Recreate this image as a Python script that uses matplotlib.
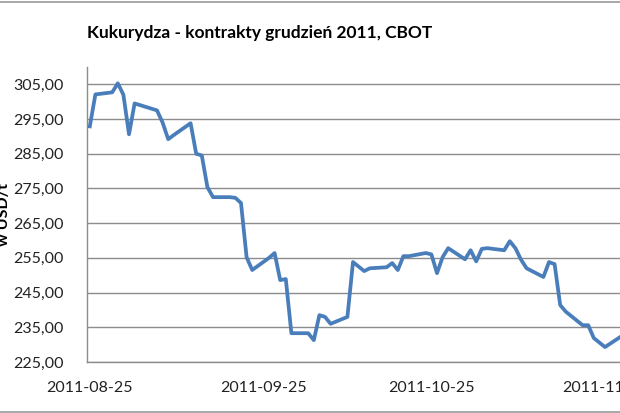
import matplotlib
matplotlib.use('Agg')
import matplotlib.pyplot as plt
import matplotlib.dates as mdates
from matplotlib.lines import Line2D
from matplotlib.ticker import FixedLocator, FuncFormatter
import pandas as pd

plt.rcParams['font.family'] = ['Lato', 'DejaVu Sans']

# notowania (data, cena w USD/t)
dates = [
    '2011-08-25', '2011-08-26', '2011-08-29', '2011-08-30', '2011-08-31',
    '2011-09-01', '2011-09-02', '2011-09-06', '2011-09-07', '2011-09-08',
    '2011-09-09', '2011-09-12', '2011-09-13', '2011-09-14', '2011-09-15',
    '2011-09-16', '2011-09-19', '2011-09-20', '2011-09-21', '2011-09-22',
    '2011-09-23', '2011-09-26', '2011-09-27', '2011-09-28', '2011-09-29',
    '2011-09-30', '2011-10-03', '2011-10-04', '2011-10-05', '2011-10-06',
    '2011-10-07', '2011-10-10', '2011-10-11', '2011-10-12', '2011-10-13',
    '2011-10-14', '2011-10-17', '2011-10-18', '2011-10-19', '2011-10-20',
    '2011-10-21', '2011-10-24', '2011-10-25', '2011-10-26', '2011-10-27',
    '2011-10-28', '2011-10-31', '2011-11-01', '2011-11-02', '2011-11-03',
    '2011-11-04', '2011-11-07', '2011-11-08', '2011-11-09', '2011-11-10',
    '2011-11-11', '2011-11-14', '2011-11-15', '2011-11-16', '2011-11-17',
    '2011-11-18', '2011-11-21', '2011-11-22', '2011-11-23', '2011-11-25',
    '2011-11-28',
]
prices = [
    292.9, 302.1, 302.7, 305.3, 302.0,
    290.6, 299.5, 297.5, 294.0, 289.2,
    290.4, 293.8, 285.0, 284.5, 275.4,
    272.5, 272.5, 272.3, 270.8, 255.2,
    251.5, 255.0, 256.4, 248.6, 248.9,
    233.3, 233.3, 231.3, 238.5, 238.0,
    236.0, 238.0, 253.8, 252.5, 251.2,
    252.0, 252.3, 253.5, 251.5, 255.5,
    255.5, 256.4, 256.0, 250.6, 255.2,
    257.8, 254.6, 257.2, 254.0, 257.6,
    257.8, 257.2, 259.8, 257.8, 254.5,
    252.0, 249.5, 253.8, 253.2, 241.4,
    239.5, 235.6, 235.6, 231.9, 229.3,
    232.5,
]
y_ticks = [225, 235, 245, 255, 265, 275, 285, 295, 305]
x_ticks = ['2011-08-25', '2011-09-25', '2011-10-25', '2011-11-25']

x = pd.to_datetime(dates)

fig = plt.figure(figsize=(6.2, 4.13), dpi=100)
# wykres jest przyciety z prawej strony - os wychodzi poza obraz
ax = fig.add_axes([87 / 620, 51 / 413, 560 / 620, 295 / 413])

ax.plot(x, prices, color='#4a7ebb', lw=2.7, solid_joinstyle='round', zorder=3)

ax.set_ylim(225, 310)
ax.yaxis.set_major_locator(FixedLocator(y_ticks))
ax.yaxis.set_major_formatter(FuncFormatter(lambda v, p: ('%.2f' % v).replace('.', ',')))
ax.grid(axis='y', color='#8c8c8c', lw=1.0)
ax.set_axisbelow(True)

x0 = pd.Timestamp('2011-08-25') - pd.Timedelta(hours=12)
ax.set_xlim(x0, x0 + pd.Timedelta(days=560 / 5.6))
ax.set_xticks(pd.to_datetime(x_ticks))
ax.xaxis.set_major_formatter(mdates.DateFormatter('%Y-%m-%d'))

ax.tick_params(axis='both', length=0, labelsize=11.5, colors='#222222')
ax.tick_params(axis='y', pad=17)
ax.tick_params(axis='x', pad=14)

for s in ['top', 'right']:
    ax.spines[s].set_visible(False)
for s in ['left', 'bottom']:
    ax.spines[s].set_color('#8c8c8c')
    ax.spines[s].set_linewidth(1.0)

ax.set_ylabel('w USD/t', fontsize=11.5, fontweight='bold')
ax.yaxis.set_label_coords(-76 / 560, 0.5)

fig.text(260 / 620, 1 - 33 / 413, 'Kukurydza - kontrakty grudzień 2011, CBOT',
         ha='center', va='center', fontsize=12.5, fontweight='bold')

# ramka wykresu (gora i dol)
fig.add_artist(Line2D([0, 1], [1 - 1.5 / 413, 1 - 1.5 / 413], color='#9a9a9a', lw=1.2))
fig.add_artist(Line2D([0, 1], [1.5 / 413, 1.5 / 413], color='#9a9a9a', lw=1.2))

fig.savefig('out.png', dpi=100)
